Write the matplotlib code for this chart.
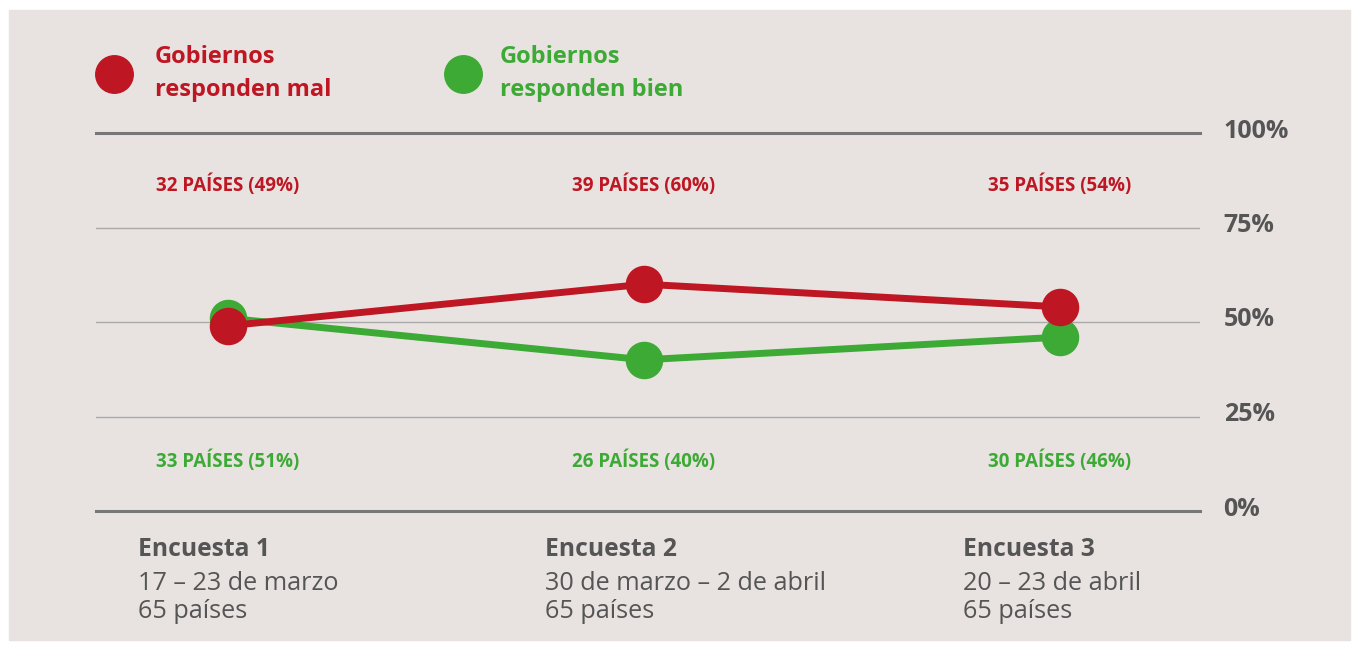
import matplotlib.pyplot as plt
from matplotlib.patches import Rectangle
from matplotlib.transforms import ScaledTranslation

# datos
encuestas = ['Encuesta 1', 'Encuesta 2', 'Encuesta 3']
fechas = ['17 – 23 de marzo', '30 de marzo – 2 de abril', '20 – 23 de abril']
paises = ['65 países', '65 países', '65 países']
mal_pct = [49, 60, 54]
bien_pct = [51, 40, 46]
mal_n = [32, 39, 35]
bien_n = [33, 26, 30]
yticks = [0, 25, 50, 75, 100]

rojo = '#BE1622'
verde = '#3DAA35'
gris = '#555555'
fondo = '#E8E3E1'

plt.rcParams['font.family'] = ['Open Sans', 'DejaVu Sans']

W, H = 1358, 646
fig = plt.figure(figsize=(W / 100, H / 100), dpi=100, facecolor='white')
fig.patches.append(Rectangle((9 / W, 1 - 640 / H), 1341 / W, 630 / H,
                             transform=fig.transFigure, color=fondo, zorder=-10))

ax = fig.add_axes([96 / W, 1 - 511 / H, 1104 / W, 378 / H])
ax.set_facecolor('none')
x = list(range(len(encuestas)))
ax.set_xlim(-132 / 416, 2 + 140 / 416)
ax.set_ylim(0, 100)

for v in yticks:
    if v in (0, 100):
        ax.axhline(v, color='#777777', lw=2.2, zorder=1, clip_on=False)
    else:
        ax.axhline(v, color='#AAAAAA', lw=1, zorder=1)

ax.plot(x, bien_pct, color=verde, lw=5, marker='o', ms=26, zorder=3, solid_capstyle='butt')
ax.plot(x, mal_pct, color=rojo, lw=5, marker='o', ms=26, zorder=4, solid_capstyle='butt')

for i in x:
    ax.text(i, 86.2, f'{mal_n[i]} PAÍSES ({mal_pct[i]}%)', color=rojo, fontsize=13.5,
            fontweight='bold', ha='center', va='center')
    ax.text(i, 13.2, f'{bien_n[i]} PAÍSES ({bien_pct[i]}%)', color=verde, fontsize=13.5,
            fontweight='bold', ha='center', va='center')

for s in ax.spines.values():
    s.set_visible(False)
ax.set_xticks([])
ax.yaxis.tick_right()
ax.set_yticks(yticks)
ax.set_yticklabels([f'{v}%' for v in yticks], fontsize=18, fontweight='bold', color=gris)
ax.tick_params(axis='y', length=0, pad=17)
sube = ScaledTranslation(0, 5 / 100, fig.dpi_scale_trans)
for lbl in ax.get_yticklabels():
    lbl.set_transform(lbl.get_transform() + sube)

# textos inferiores
xs_txt = [138, 545, 963]
for i in x:
    fig.text(xs_txt[i] / W, 1 - 550 / H, encuestas[i], fontsize=17.7, fontweight='bold',
             color=gris, va='center', ha='left')
    fig.text(xs_txt[i] / W, 1 - 583 / H, fechas[i], fontsize=18.2, color=gris,
             va='center', ha='left')
    fig.text(xs_txt[i] / W, 1 - 612 / H, paises[i], fontsize=18.2, color=gris,
             va='center', ha='left')

# leyenda
for cx, tx, col, lab in [(114, 155, rojo, 'responden mal'), (463, 500, verde, 'responden bien')]:
    fig.lines.append(plt.Line2D([cx / W], [1 - 74 / H], marker='o', ms=27, color=col,
                                transform=fig.transFigure))
    fig.text(tx / W, 1 - 57 / H, 'Gobiernos', fontsize=17, fontweight='bold', color=col,
             va='center', ha='left')
    fig.text(tx / W, 1 - 90 / H, lab, fontsize=17, fontweight='bold', color=col,
             va='center', ha='left')

fig.savefig('out.png', dpi=100, facecolor='white')
